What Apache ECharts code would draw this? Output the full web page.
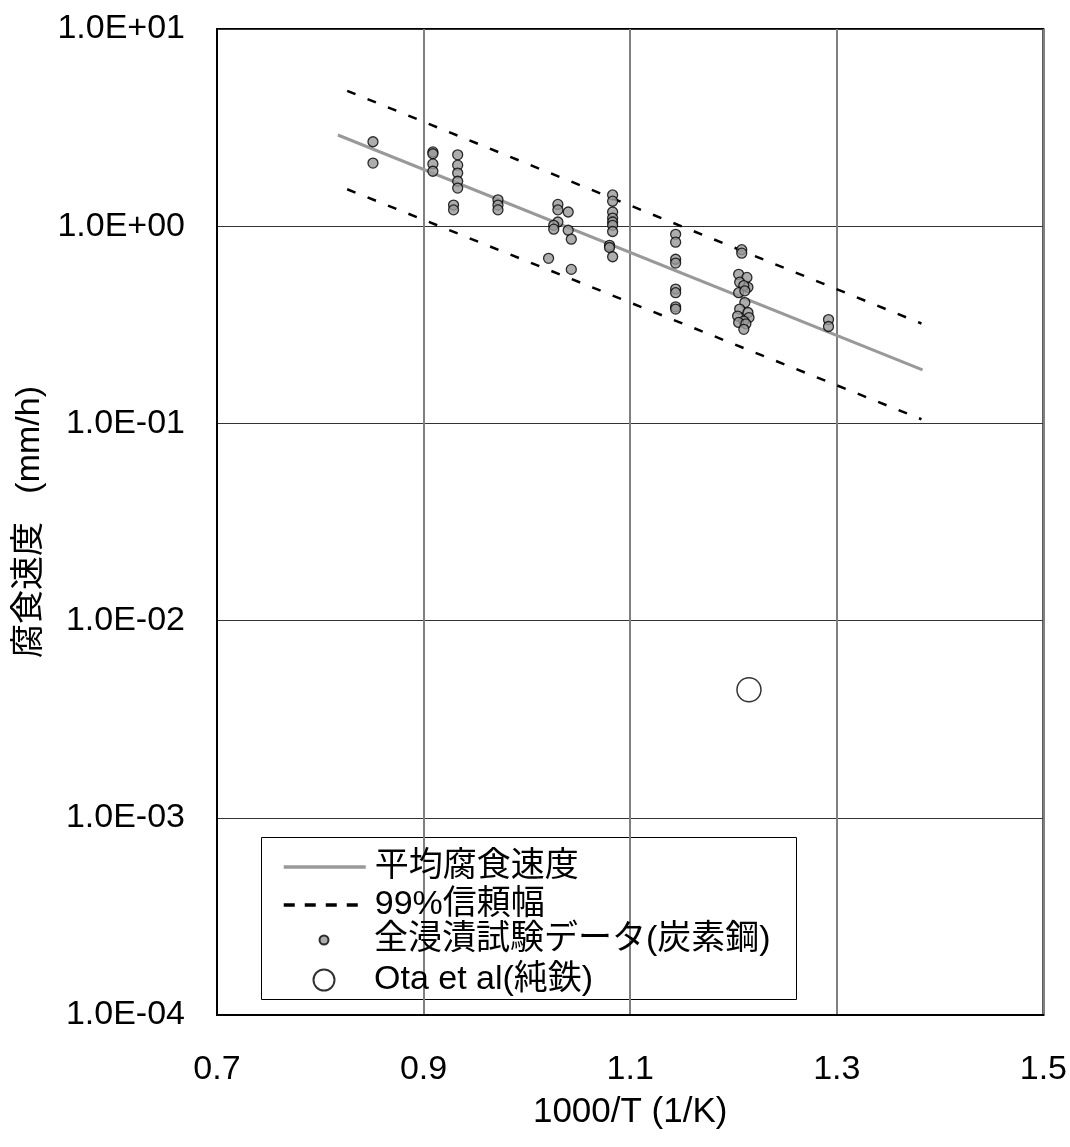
<!DOCTYPE html>
<html><head><meta charset="utf-8">
<script src="https://cdn.jsdelivr.net/npm/echarts@6/dist/echarts.min.js"></script>
<style>html,body{margin:0;padding:0;background:#fff}#c{width:1070px;height:1147px}</style>
</head><body><div id="c"></div>
<script>
// ---- data ----
const xTicks = ['0.7','0.9','1.1','1.3','1.5'];
const yTickLabels = ['1.0E-04','1.0E-03','1.0E-02','1.0E-01','1.0E+00','1.0E+01'];

const meanX = [0.817, 1.383];
const meanY = [2.90, 0.187];
const upperX = [0.826, 1.382];
const upperY = [4.86, 0.321];
const lowerX = [0.826, 1.382];
const lowerY = [1.54, 0.105];

const steelX = [0.851,0.851,
  0.909,0.909,0.909,0.909,
  0.933,0.933,0.933,0.933,0.933,
  0.929,0.929,
  0.972,0.972,0.972,
  1.030,1.030,1.040,1.030,1.026,1.026,1.040,1.043,1.021,1.043,
  1.083,1.083,1.083,1.083,1.083,1.083,1.083,1.080,1.080,1.083,
  1.144,1.144,1.144,1.144,1.144,1.144,1.144,1.144,
  1.208,1.208,1.205,1.213,1.206,1.214,1.210,1.205,1.211,
  1.211,1.206,1.214,1.204,1.215,1.210,1.205,1.212,1.210,
  1.292,1.292];
const steelY = [2.68,2.09,
  2.38,2.33,2.07,1.90,
  2.30,2.04,1.86,1.69,1.56,
  1.28,1.21,
  1.36,1.28,1.21,
  1.29,1.21,1.18,1.05,1.01,0.966,0.954,0.859,0.687,0.604,
  1.44,1.34,1.18,1.10,1.05,1.01,0.94,0.80,0.78,0.70,
  0.91,0.83,0.68,0.65,0.48,0.46,0.39,0.38,
  0.76,0.73,0.57,0.55,0.52,0.49,0.50,0.46,0.47,
  0.41,0.38,0.365,0.35,0.344,0.33,0.325,0.32,0.30,
  0.336,0.31];

const otaX = [1.215];
const otaY = [0.00446];

const names = ['平均腐食速度','99%信頼幅','全浸漬試験データ(炭素鋼)','Ota et al(純鉄)'];

// ---- chart ----
const zip = (a,b) => a.map((v,i)=>[v,b[i]]);
const FONT = '"Liberation Sans", Arial, "Noto Sans CJK JP", sans-serif';
const chart = echarts.init(document.getElementById('c'), null, {renderer:'canvas'});
const legendText = {fontSize:34, lineHeight:36, color:'#000', fontFamily:FONT, padding:[0,0,0,4]};
const hidden = {color:'rgba(0,0,0,0)', borderColor:'rgba(0,0,0,0)', borderWidth:0, opacity:0};
const mkLegend = (name, left, top, h, itemStyle, lineStyle) => {
  const o = {orient:'vertical', left:left, top:top, itemWidth:82, itemHeight:h, padding:0,
    data:[name], textStyle:legendText, selectedMode:false};
  if (itemStyle) o.itemStyle = itemStyle;
  if (lineStyle) o.lineStyle = lineStyle;
  return o;
};
chart.setOption({
  animation:false,
  backgroundColor:'#fff',
  textStyle:{fontFamily:FONT},
  grid:{left:217, top:29, right:25, bottom:132, show:true, borderColor:'#000', borderWidth:2, backgroundColor:'transparent'},
  xAxis:{
    type:'value', min:0.7, max:1.5, interval:0.2,
    axisLine:{show:true, lineStyle:{color:'#000', width:2}},
    axisTick:{show:false},
    axisLabel:{fontSize:34, color:'#000', margin:38, fontFamily:FONT,
      formatter:v=>{const i=Math.round((v-0.7)/0.2); return xTicks[i]||'';}},
    splitLine:{show:true, lineStyle:{color:'#808080', width:2}},
    name:'1000/T (1/K)', nameLocation:'middle', nameGap:80,
    nameTextStyle:{fontSize:35, color:'#000', fontFamily:FONT}
  },
  yAxis:{
    type:'log', logBase:10, min:1e-4, max:10,
    axisLine:{show:true, lineStyle:{color:'#000', width:2}},
    axisTick:{show:false},
    minorTick:{show:false},
    axisLabel:{fontSize:34, color:'#000', margin:32, fontFamily:FONT,
      formatter:v=>{const i=Math.round(Math.log10(v))+4; return yTickLabels[i]||'';}},
    splitLine:{show:true, lineStyle:{color:'#333', width:1}},
    name:'腐食速度   (mm/h)', nameLocation:'middle', nameGap:164, nameRotate:90,
    nameTextStyle:{fontSize:34, color:'#000', fontFamily:FONT}
  },
  legend:[
    mkLegend(names[0], 282, 849, 14, hidden, {width:3.5, color:'#999'}),
    mkLegend(names[1], 282, 887, 14, hidden, {width:3.5, color:'#000', type:[11,10]}),
    mkLegend(names[2], 318.5, 922, 9),
    mkLegend(names[3], 312.5, 962, 21)
  ],
  graphic:[{type:'rect', left:261, top:837, shape:{width:535, height:162},
    style:{fill:'#fff', stroke:'#000', lineWidth:1}, z:-1}],
  series:[
    {name:names[0], type:'line', data:zip(meanX,meanY), symbol:'none', z:3,
     lineStyle:{color:'#999', width:3}, itemStyle:{color:'#999'}},
    {name:names[1], type:'line', data:zip(upperX,upperY), symbol:'none', z:3,
     lineStyle:{color:'#000', width:2.5, type:[9,13]}, itemStyle:{color:'#000'}},
    {name:names[1], type:'line', data:zip(lowerX,lowerY), symbol:'none', z:3,
     lineStyle:{color:'#000', width:2.5, type:[9,13]}, itemStyle:{color:'#000'}},
    {name:names[2], type:'scatter', data:zip(steelX,steelY), symbol:'circle', symbolSize:10, z:4,
     itemStyle:{color:'#999', borderColor:'#000', borderWidth:1.3}},
    {name:names[3], type:'scatter', data:zip(otaX,otaY), symbol:'circle', symbolSize:24, z:4,
     itemStyle:{color:'#fff', borderColor:'#000', borderWidth:1.5}}
  ]
});
</script></body></html>
